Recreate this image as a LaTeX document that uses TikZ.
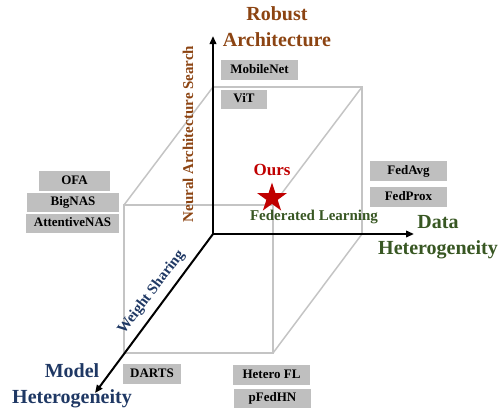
\documentclass[tikz,border=0pt]{standalone}
\usepackage{fontspec}
\setmainfont{Liberation Serif}
\usetikzlibrary{arrows.meta,shapes.geometric}
\definecolor{brownc}{RGB}{140,68,18}
\definecolor{greenc}{RGB}{56,87,35}
\definecolor{navyc}{RGB}{31,56,100}
\definecolor{redc}{RGB}{192,0,0}
\definecolor{boxgray}{RGB}{191,191,191}
\definecolor{linegray}{RGB}{196,196,196}
\begin{document}
\begin{tikzpicture}[x=1pt,y=-1pt,
  axis/.style={line width=2pt,-{Triangle[length=8pt,width=6.5pt]}},
  cube/.style={linegray,line width=1.5pt},
  tag/.style={fill=boxgray,font=\fontsize{13}{13}\selectfont\bfseries,inner sep=0pt,
    minimum height=19.5pt,text height=9pt,text depth=2.5pt},
  axlabel/.style={font=\fontsize{20}{26}\selectfont\bfseries,align=center},
  sublabel/.style={font=\fontsize{15}{15}\selectfont\bfseries,inner sep=0pt}]
\useasboundingbox (0,0) rectangle (502,408);
% cube corners
\coordinate (O) at (213,234);
\coordinate (BT) at (213,87);
\coordinate (BTR) at (362,87);
\coordinate (BBR) at (362,234);
\coordinate (FTL) at (124,205);
\coordinate (FTR) at (273,205);
\coordinate (FBL) at (124,353);
\coordinate (FBR) at (273,353);
\coordinate (ytip) at (213,36);
\coordinate (xtip) at (414,234);
\coordinate (ztip) at (95,393);
% cube
\draw[cube] (BT) -- (BTR) -- (BBR);
\draw[cube] (FTL) -- (FTR) -- (FBR) -- (FBL) -- cycle;
\draw[cube] (BT) -- (FTL);
\draw[cube] (BTR) -- (FTR);
\draw[cube] (BBR) -- (FBR);
% axes
\draw[axis] (O) -- (ytip);
\draw[axis] (O) -- (xtip);
\draw[axis] (O) -- (ztip);
% axis labels
\node[axlabel,text=brownc] (robust) at (277,27) {Robust\\Architecture};
\node[axlabel,text=greenc] (data) at (438,237) {Data\\Heterogeneity};
\node[axlabel,text=navyc] (model) at (72,386) {Model\\Heterogeneity};
\node[sublabel,text=brownc,rotate=90] (nas) at (188,134) {Neural Architecture Search};
\node[sublabel,text=navyc,rotate=53] (ws) at (151.5,292.5) {Weight Sharing};
\node[sublabel,text=greenc] (fl) at (314,217) {Federated Learning};
\node[font=\fontsize{17}{17}\selectfont\bfseries,text=redc,inner sep=0pt] (ours) at (272,170) {Ours};
\node[star,star points=5,star point ratio=2.618,fill=redc,inner sep=0pt,minimum size=31pt] (star) at (272,198) {};
% tags
\node[tag,minimum width=77pt] (mobilenet) at (259.5,70) {MobileNet};
\node[tag,minimum width=46pt] (vit) at (244,99.5) {ViT};
\node[tag,minimum width=71pt] (ofa) at (74.5,181) {OFA};
\node[tag,minimum width=92pt] (bignas) at (73,202.5) {BigNAS};
\node[tag,minimum width=93pt] (attnas) at (72.5,223.5) {AttentiveNAS};
\node[tag,minimum width=77pt] (fedavg) at (408.5,171) {FedAvg};
\node[tag,minimum width=77pt] (fedprox) at (408.5,197) {FedProx};
\node[tag,minimum width=58pt] (darts) at (152,374) {DARTS};
\node[tag,minimum width=77pt] (heterofl) at (271.5,375) {Hetero FL};
\node[tag,minimum width=77pt] (pfedhn) at (272.5,398.5) {pFedHN};
\end{tikzpicture}
\end{document}
